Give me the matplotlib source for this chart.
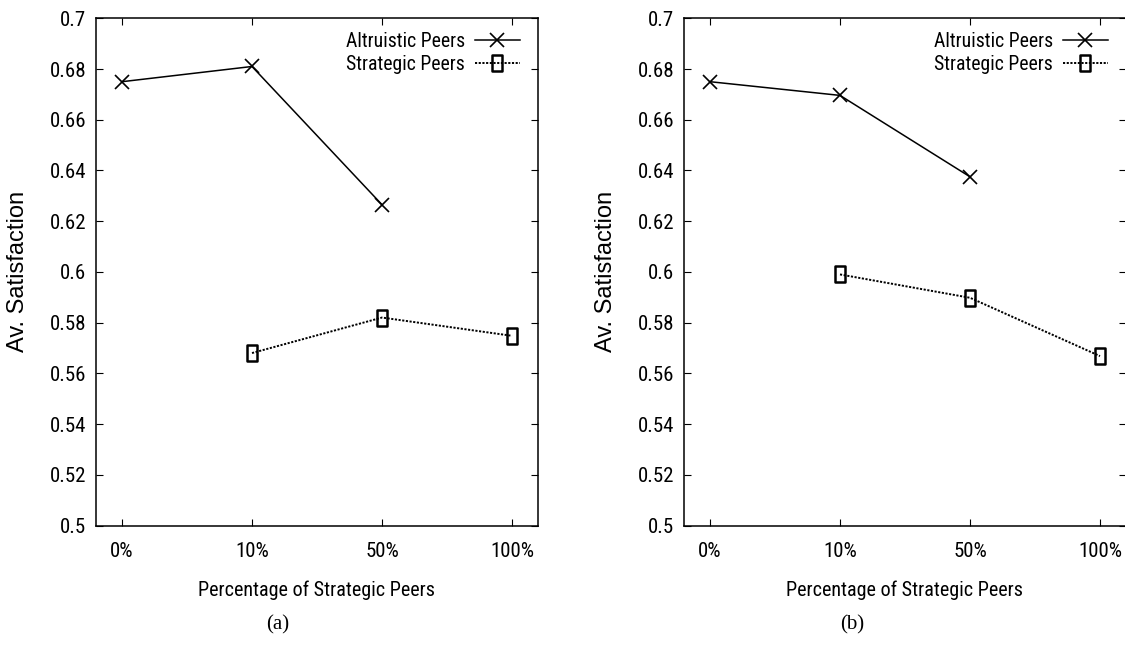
import matplotlib
matplotlib.use("Agg")
import matplotlib.pyplot as plt
from matplotlib.path import Path
from matplotlib import font_manager
from matplotlib.font_manager import FontProperties

# Data
categories = ["0%", "10%", "50%", "100%"]
altruistic_a = [0.675, 0.681, 0.6265, None]
strategic_a = [None, 0.568, 0.582, 0.5748]
altruistic_b = [0.675, 0.6696, 0.6375, None]
strategic_b = [None, 0.599, 0.5898, 0.5668]
yticks = [0.5, 0.52, 0.54, 0.56, 0.58, 0.6, 0.62, 0.64, 0.66, 0.68, 0.7]
ytick_labels = ["0.5", "0.52", "0.54", "0.56", "0.58", "0.6", "0.62", "0.64", "0.66", "0.68", "0.7"]
panel_labels = ["(a)", "(b)"]


def narrow_font(size):
    """Pick a narrow sans face if one is installed, else plain Liberation Sans."""
    prefs = ["liberation sans narrow", "arial narrow", "roboto condensed",
             "open sans condensed", "noto sans condensed"]
    found = {}
    for f in font_manager.fontManager.ttflist:
        if f.style != "normal" or f.weight not in (400, "normal", "regular"):
            continue
        n = f.name.lower()
        fn = f.fname.lower()
        for p in prefs:
            key = p.replace(" ", "")
            if n == p or key in fn.replace("-", "").replace("_", "") and "bold" not in fn and "italic" not in fn and "light" not in fn:
                found.setdefault(p, f.fname)
    for p in prefs:
        if p in found:
            return FontProperties(fname=found[p], size=size)
    return FontProperties(family="Liberation Sans", size=size * 0.85)


tick_fp = narrow_font(15)
label_fp = narrow_font(14.5)
legend_fp = narrow_font(14.2)

# Slightly tall rectangle used as the square marker
rect = Path([(-0.65, -1), (0.65, -1), (0.65, 1), (-0.65, 1), (-0.65, -1)],
            [Path.MOVETO, Path.LINETO, Path.LINETO, Path.LINETO, Path.CLOSEPOLY])


def xy(vals):
    xs = [i for i, v in enumerate(vals) if v is not None]
    ys = [v for v in vals if v is not None]
    return xs, ys


fig = plt.figure(figsize=(11.25, 6.49), dpi=100)
axes_pos = [
    [96 / 1125, 1 - 525.5 / 649, 442 / 1125, 507.2 / 649],
    [684 / 1125, 1 - 525.5 / 649, 442 / 1125, 507.2 / 649],
]
series = [(altruistic_a, strategic_a), (altruistic_b, strategic_b)]
caption_x = [278 / 1125, 852 / 1125]

for pos, (alt, strat), cap, cx in zip(axes_pos, series, panel_labels, caption_x):
    ax = fig.add_axes(pos)
    x1, y1 = xy(alt)
    x2, y2 = xy(strat)
    ax.plot(x1, y1, color="black", lw=1.1, marker="x", ms=10, mew=1.2,
            label="Altruistic Peers")
    ax.plot(x2, y2, color="black", lw=1.4, ls=(0, (1.1, 0.8)), marker=rect,
            ms=12, mew=1.8, mfc="none", mec="black", label="Strategic Peers")
    ax.set_xlim(-0.2, 3.2)
    ax.set_ylim(0.5, 0.7)
    ax.set_xticks(range(len(categories)))
    ax.set_xticklabels(categories)
    ax.set_yticks(yticks)
    ax.set_yticklabels(ytick_labels)
    for lab in ax.get_xticklabels() + ax.get_yticklabels():
        lab.set_fontproperties(tick_fp)
    ax.tick_params(direction="in", top=True, right=True, length=5, width=0.8,
                   color="black")
    ax.tick_params(axis="x", pad=12)
    ax.tick_params(axis="y", pad=7)
    for sp in ax.spines.values():
        sp.set_linewidth(1.1)
    yl = ax.set_ylabel("Av. Satisfaction", family="Liberation Sans", fontsize=17)
    yl.set_verticalalignment("center")
    ax.yaxis.set_label_coords(-0.176, 0.5)
    xl = ax.set_xlabel("Percentage of Strategic Peers", fontproperties=label_fp)
    xl.set_verticalalignment("center")
    ax.xaxis.set_label_coords(0.5, -0.127)
    ax.legend(loc="upper right", bbox_to_anchor=(1 - 18 / 442, 1 - 14 / 507),
              frameon=False, markerfirst=False, prop=legend_fp,
              handlelength=2.3, handletextpad=0.5, labelspacing=0.2,
              borderpad=0, borderaxespad=0)
    fig.text(cx, 1 - 625 / 649, cap, family="Liberation Serif", fontsize=15,
             ha="center", va="center")

fig.savefig("out.png", dpi=100)
